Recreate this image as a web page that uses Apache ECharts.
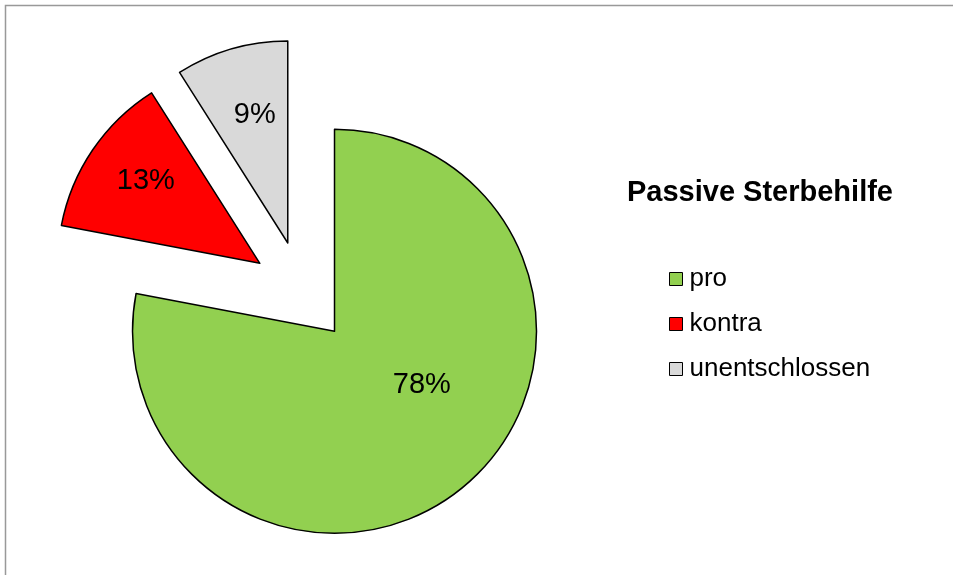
<!DOCTYPE html>
<html>
<head>
<meta charset="utf-8">
<script src="https://cdn.jsdelivr.net/npm/echarts@6/dist/echarts.min.js"></script>
<style>
html,body{margin:0;padding:0;background:#fff;}
#chart{width:953px;height:575px;}
</style>
</head>
<body>
<div id="chart"></div>
<script>
const categories = ['pro', 'kontra', 'unentschlossen'];
const values = [78, 13, 9];
const colors = ['#92D050', '#FF0000', '#D9D9D9'];
const chartTitle = 'Passive Sterbehilfe';

const labelShift = [[21, -26], [-28, -24], [-4, -28]];

const chart = echarts.init(document.getElementById('chart'));
const font = 'Liberation Sans, Arial, sans-serif';
chart.setOption({
  animation: false,
  backgroundColor: '#fff',
  graphic: [{
    type: 'rect',
    shape: { x: 5.5, y: 5.5, width: 1000, height: 1000 },
    style: { fill: 'none', stroke: '#999', lineWidth: 1.5 },
    silent: true
  }],
  title: {
    text: chartTitle,
    left: 627,
    top: 178,
    padding: 0,
    textStyle: { fontFamily: font, fontSize: 29, fontWeight: 'bold', color: '#000' }
  },
  legend: {
    orient: 'vertical',
    left: 669,
    top: 266,
    padding: 0,
    itemWidth: 13,
    itemHeight: 13,
    itemGap: 19,
    icon: 'rect',
    selectedMode: false,
    itemStyle: { borderColor: '#000', borderWidth: 1 },
    textStyle: { fontFamily: font, fontSize: 26, lineHeight: 26, color: '#000', padding: [0, 0, 0, 2] },
    data: categories
  },
  series: [{
    type: 'pie',
    center: [302, 292],
    radius: [0, 202],
    startAngle: 90,
    clockwise: true,
    selectedMode: 'multiple',
    selectedOffset: 51,
    percentPrecision: 0,
    emphasis: { disabled: true },
    itemStyle: { borderColor: '#000', borderWidth: 1.5 },
    label: {
      show: true,
      position: 'inside',
      formatter: '{d}%',
      fontFamily: font,
      fontSize: 29,
      color: '#000'
    },
    labelLine: { show: false },
    labelLayout: function (p) {
      const s = labelShift[p.dataIndex];
      return { dx: s[0], dy: s[1] };
    },
    data: categories.map((c, i) => ({
      name: c,
      value: values[i],
      selected: true,
      itemStyle: { color: colors[i] }
    }))
  }]
});
</script>
</body>
</html>
